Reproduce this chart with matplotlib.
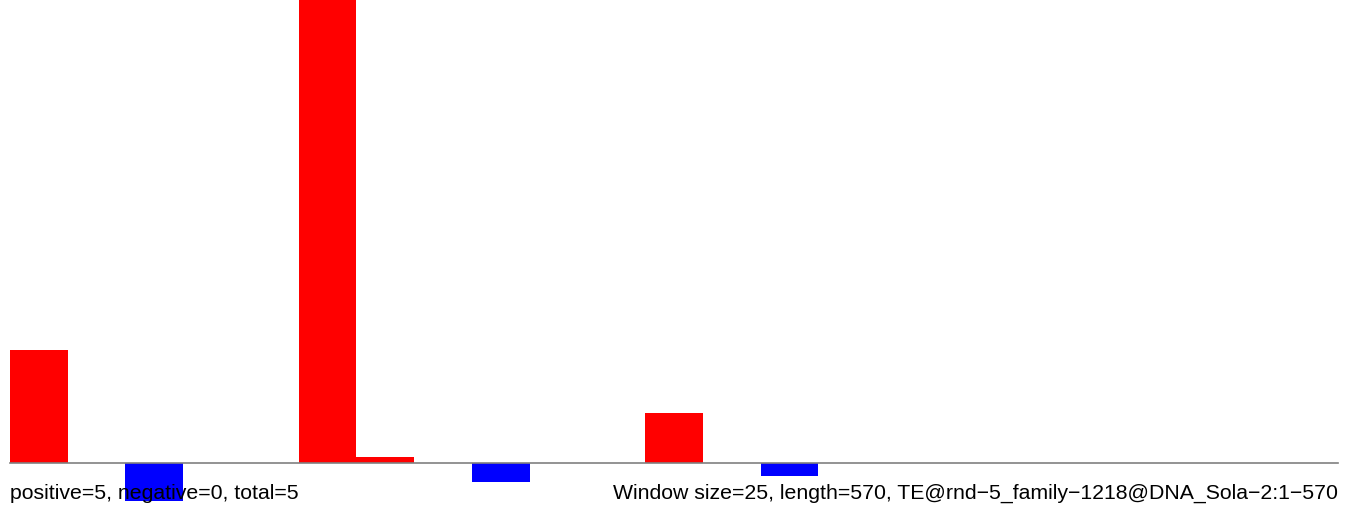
import matplotlib
matplotlib.use('Agg')
import matplotlib.pyplot as plt
import numpy as np

# counts per 25bp window (positive = sense, negative = antisense)
window_size = 25
seq_length = 570
n_windows = 23
windows = np.arange(n_windows)
values = [18, 0, -6, 0, 0, 74, 1, 0, -3, 0, 0, 8, 0, -2,
          0, 0, 0, 0, 0, 0, 0, 0, 0]
left_label = 'positive=5, negative=0, total=5'
right_label = 'Window size=25, length=570, TE@rnd\u22125_family\u22121218@DNA_Sola\u22122:1\u2212570'

plt.rcParams['font.family'] = ['Liberation Sans', 'DejaVu Sans']

fig = plt.figure(figsize=(13.5, 5.13), dpi=100)
ax = fig.add_axes([0, 0, 1, 1])

colors = ['red' if v > 0 else 'blue' for v in values]
ax.bar(windows, values, width=1, align='edge', color=colors, linewidth=0)
ax.plot([0, n_windows], [0, 0], color='#808080', lw=1.2)

px = 1328 / n_windows
ax.set_xlim(-10 / px, n_windows + 12 / px)
unit = 6.29
ax.set_ylim(-(513 - 463.3) / unit, 463.3 / unit)
ax.axis('off')

fig.text(10 / 1350, 1 - 499 / 513, left_label, fontsize=15.3, va='baseline', ha='left')
fig.text(1338 / 1350, 1 - 499 / 513, right_label, fontsize=15.3, va='baseline', ha='right')

fig.savefig('out.png', dpi=100)
